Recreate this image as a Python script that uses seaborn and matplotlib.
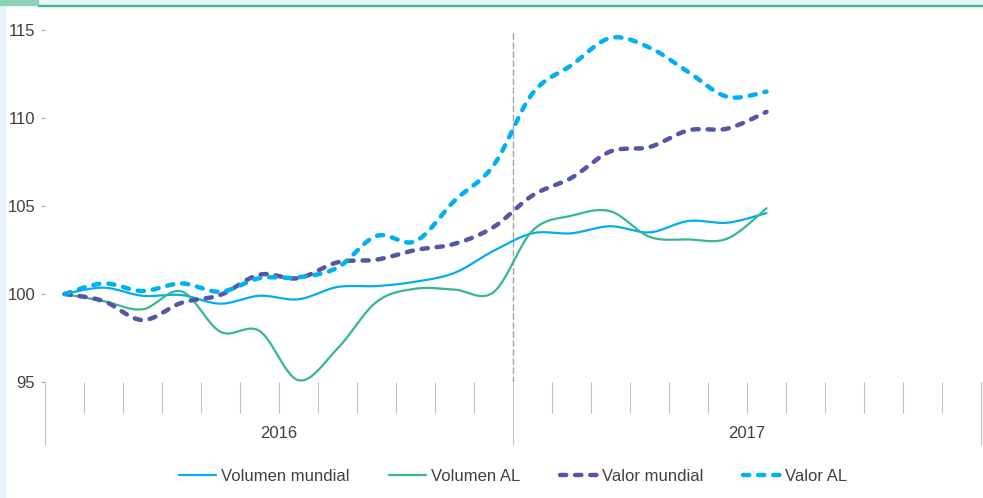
import numpy as np
import pandas as pd
import seaborn as sns
import matplotlib
matplotlib.use("Agg")
import matplotlib.pyplot as plt
from matplotlib.patches import Rectangle
import matplotlib.transforms as mtransforms

sns.set_style("white")
plt.rcParams["font.family"] = ["Liberation Sans", "DejaVu Sans"]
plt.rcParams["lines.dash_capstyle"] = "round"
plt.rcParams["lines.solid_capstyle"] = "round"

# monthly index, Jan 2016 .. Jul 2017 (placed in the middle of each month slot)
months = np.arange(19) + 0.5
years = ["2016", "2017"]
vol_mundial = [100.0, 100.36, 99.9, 99.94, 99.45, 99.9, 99.7, 100.4, 100.45, 100.7,
               101.2, 102.45, 103.45, 103.45, 103.85, 103.5, 104.15, 104.05, 104.6]
vol_al = [100.0, 99.6, 99.13, 100.15, 97.85, 97.9, 95.1, 96.9, 99.55, 100.3,
          100.25, 100.1, 103.6, 104.45, 104.7, 103.25, 103.1, 103.15, 104.87]
valor_mundial = [100.0, 99.6, 98.52, 99.5, 99.95, 101.1, 100.9, 101.8, 101.95, 102.5,
                 102.85, 103.8, 105.6, 106.6, 108.1, 108.35, 109.3, 109.4, 110.35]
valor_al = [100.0, 100.6, 100.17, 100.6, 100.13, 100.9, 100.95, 101.5, 103.3, 103.0,
            105.3, 107.3, 111.4, 113.0, 114.55, 114.0, 112.6, 111.2, 111.5]

names = ["Volumen mundial", "Volumen AL", "Valor mundial", "Valor AL"]
colors = {"Volumen mundial": "#00AEEF", "Volumen AL": "#35B98A",
          "Valor mundial": "#5357A5", "Valor AL": "#00B0F0"}
widths = {"Volumen mundial": 1.6, "Volumen AL": 1.6, "Valor mundial": 3.2, "Valor AL": 3.2}
dashes = {"Volumen mundial": "", "Volumen AL": "",
          "Valor mundial": (1.4, 2.0), "Valor AL": (1.4, 2.0)}


def smooth(x, y, steps=24):
    """Bezier smoothing through the points, like a spreadsheet 'smoothed line'."""
    x = np.asarray(x, float)
    y = np.asarray(y, float)
    px = np.r_[x[0], x, x[-1]]
    py = np.r_[y[0], y, y[-1]]
    t = np.linspace(0, 1, steps, endpoint=False)
    ox, oy = [], []
    for i in range(1, len(x)):
        for p, out in ((px, ox), (py, oy)):
            p0, p1, p2, p3 = p[i - 1], p[i], p[i + 1], p[i + 2]
            c1 = p1 + (p2 - p0) / 6
            c2 = p2 - (p3 - p1) / 6
            out.extend((1 - t) ** 3 * p1 + 3 * (1 - t) ** 2 * t * c1
                       + 3 * (1 - t) * t ** 2 * c2 + t ** 3 * p2)
    ox.append(x[-1])
    oy.append(y[-1])
    return np.array(ox), np.array(oy)


frames = []
for name, vals in zip(names, [vol_mundial, vol_al, valor_mundial, valor_al]):
    sx, sy = smooth(months, vals)
    frames.append(pd.DataFrame({"mes": sx, "indice": sy, "serie": name}))
df = pd.concat(frames, ignore_index=True)

fig = plt.figure(figsize=(9.83, 4.98), dpi=100)
fig.patch.set_facecolor("white")
# page decoration: light strips and green header rule
fig.add_artist(Rectangle((0, 0), 5 / 983, 1, transform=fig.transFigure,
                         color="#EAF5FA", zorder=0))
fig.add_artist(Rectangle((0, 1 - 5 / 498), 1, 5 / 498, transform=fig.transFigure,
                         color="#E6F3F8", zorder=0))
fig.add_artist(Rectangle((0, 1 - 5 / 498), 38 / 983, 5 / 498, transform=fig.transFigure,
                         color="#8ED3B5", zorder=1))
fig.add_artist(Rectangle((38 / 983, 1 - 6.5 / 498), 1, 1.5 / 498, transform=fig.transFigure,
                         color="#3DBB8A", zorder=1))

ax = fig.add_axes([45 / 983, 116 / 498, 936 / 983, 352 / 498])
ax.set_facecolor("none")

sns.lineplot(data=df, x="mes", y="indice", hue="serie", style="serie", size="serie",
             hue_order=names, style_order=names, size_order=names,
             palette=colors, dashes=dashes, sizes=widths,
             estimator=None, sort=False, ax=ax)

ax.axvline(12, color="#A6A6A6", lw=1, ls=(0, (4, 2.5)), zorder=0)

ax.set_xlim(0, 24)
ax.set_ylim(95, 115)
ax.set_yticks([95, 100, 105, 110, 115])
ax.tick_params(axis="y", which="major", left=True, length=3, width=0.8,
               color="#A6A6A6", pad=4, labelsize=12, labelcolor="#404040")
ax.set_xticks([0, 12, 24])
ax.set_xticks(np.arange(25), minor=True)
ax.tick_params(axis="x", which="major", bottom=True, length=45, width=0.8,
               color="#BFBFBF", labelbottom=False)
ax.tick_params(axis="x", which="minor", bottom=True, length=22, width=0.8,
               color="#BFBFBF")
ax.set_xlabel("")
ax.set_ylabel("")
for s in ax.spines.values():
    s.set_visible(False)

trans = mtransforms.blended_transform_factory(ax.transData, ax.transAxes)
for i, yr in enumerate(years):
    ax.text(6 + 12 * i, -51 / 352, yr, transform=trans, ha="center", va="center",
            fontsize=12, color="#404040")

sns.move_legend(ax, "center", bbox_to_anchor=(0.5, -94 / 352), ncol=4, title=None,
                frameon=False, fontsize=12, handlelength=2.2, handletextpad=0.3,
                columnspacing=2.4)
for t in ax.get_legend().get_texts():
    t.set_color("#404040")

fig.savefig("out.png", dpi=100)
